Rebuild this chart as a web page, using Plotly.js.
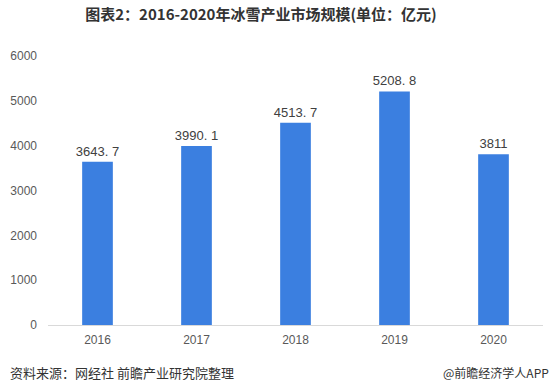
<!DOCTYPE html>
<html><head><meta charset="utf-8">
<script src="https://cdn.plot.ly/plotly-3.0.1.min.js"></script>
<style>html,body{margin:0;padding:0;background:#fff}#c{width:553px;height:392px}</style>
</head><body><div id="c"></div>
<script>
var years = ['2016','2017','2018','2019','2020'];
var values = [3643.7, 3990.1, 4513.7, 5208.8, 3811];
var labels = ['3643. 7','3990. 1','4513. 7','5208. 8','3811'];
var yTicks = [0,1000,2000,3000,4000,5000,6000];

var trace = {
  type:'bar', x:years, y:values, text:labels, textposition:'outside', constraintext:'none',
  textfont:{family:'Liberation Sans, Arial, sans-serif', size:13, color:'#404040'},
  marker:{color:'#3b7fe0'}, cliponaxis:false, hoverinfo:'none'
};
var layout = {
  width:553, height:392,
  margin:{l:48, r:10, t:56, b:67},
  paper_bgcolor:'#fff', plot_bgcolor:'#fff',
  bargap:0.69,
  showlegend:false,
  uniformtext:{mode:false},
  title:{text:'<b>图表2：2016-2020年冰雪产业市场规模(单位：亿元)</b>', x:0.472, xanchor:'center', y:0.962, yanchor:'middle',
    font:{family:'Noto Sans CJK SC, sans-serif', size:15, color:'#333'}},
  xaxis:{type:'category', showgrid:false, zeroline:false, showline:true, linecolor:'#d9d9d9', linewidth:1,
    ticks:'', tickfont:{family:'Liberation Sans, Arial, sans-serif', size:12, color:'#595959'}, ticklabelstandoff:4},
  yaxis:{range:[0,6000], tickvals:yTicks, showgrid:false, zeroline:false, showline:false, ticks:'',
    tickfont:{family:'Liberation Sans, Arial, sans-serif', size:12, color:'#595959'}, ticklabelstandoff:10},
  annotations:[
    {text:'资料来源：网经社 前瞻产业研究院整理', xref:'paper', yref:'paper', x:0, y:0, xanchor:'left', yanchor:'middle', showarrow:false,
      font:{family:'Noto Sans CJK SC, sans-serif', size:13, color:'#333'}},
    {text:'@前瞻经济学人APP', xref:'paper', yref:'paper', x:1, y:0, xanchor:'right', yanchor:'middle', showarrow:false,
      font:{family:'Noto Sans CJK SC, sans-serif', size:12, color:'#333'}}
  ]
};
layout.annotations[0].y = (325-372)/269;
layout.annotations[1].y = (325-372)/269;
layout.annotations[0].x = (8-48)/495;
layout.annotations[1].x = (551-48)/495;
Plotly.newPlot('c',[trace],layout,{displayModeBar:false, staticPlot:true});
</script></body></html>
